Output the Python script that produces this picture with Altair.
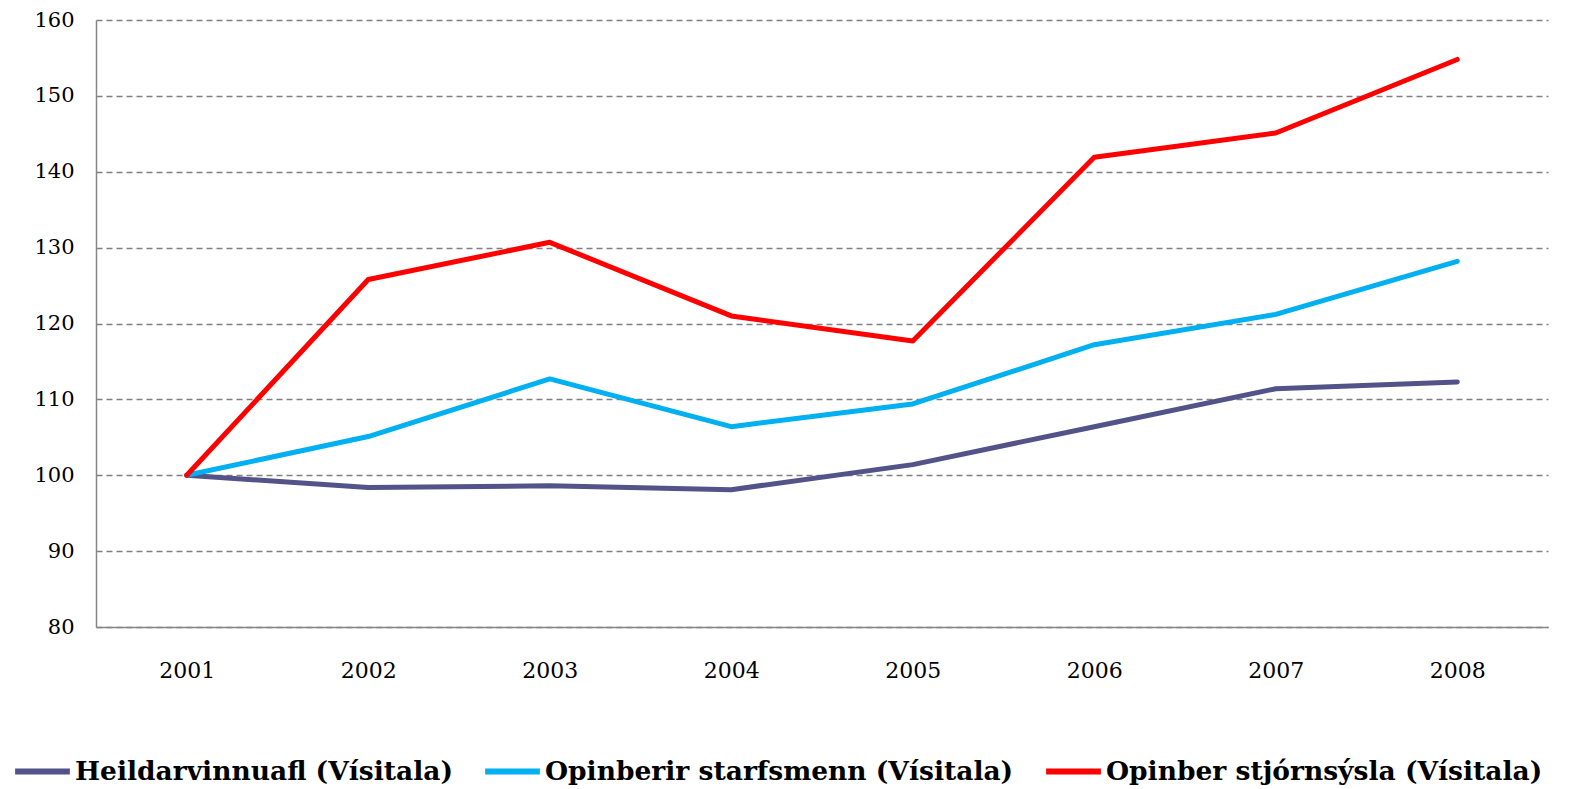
import altair as alt
import pandas as pd

years = ["2001", "2002", "2003", "2004", "2005", "2006", "2007", "2008"]
series_names = [
    "Heildarvinnuafl (Vísitala)",
    "Opinberir starfsmenn (Vísitala)",
    "Opinber stjórnsýsla (Vísitala)",
]
heildarvinnuafl = [100.0, 98.4, 98.6, 98.1, 101.4, 106.4, 111.4, 112.3]
opinberir_starfsmenn = [100.0, 105.1, 112.7, 106.4, 109.4, 117.2, 121.2, 128.2]
opinber_stjornsysla = [100.0, 125.8, 130.7, 121.0, 117.7, 141.9, 145.1, 154.8]
colors = ["#535389", "#00B0F0", "#FF0000"]

rows = []
for name, vals in zip(series_names, [heildarvinnuafl, opinberir_starfsmenn, opinber_stjornsysla]):
    for y, v in zip(years, vals):
        rows.append({"Ár": y, "Röð": name, "Gildi": v})
df = pd.DataFrame(rows)

FONT = "DejaVu Serif"

chart = alt.Chart(df).mark_line(strokeWidth=5, strokeCap="round", strokeJoin="round").encode(
    x=alt.X("Ár:O", sort=years, title=None,
            axis=alt.Axis(labelAngle=0, labelPadding=33, ticks=False,
                          domainColor="#868686", domainWidth=1.5,
                          labelFont=FONT, labelFontSize=22, labelColor="#000000")),
    y=alt.Y("Gildi:Q", title=None,
            scale=alt.Scale(domain=[80, 160], nice=False, zero=False),
            axis=alt.Axis(values=[80, 90, 100, 110, 120, 130, 140, 150, 160],
                          ticks=False, labelPadding=22,
                          domainColor="#868686", domainWidth=1.5,
                          grid=True, gridColor="#808080", gridDash=[6, 4], gridWidth=1.3,
                          labelFont=FONT, labelFontSize=21, labelColor="#000000")),
    color=alt.Color("Röð:N", sort=series_names, title=None,
                    scale=alt.Scale(domain=series_names, range=colors),
                    legend=alt.Legend(orient="none", legendX=-84, legendY=721,
                                      direction="horizontal",
                                      symbolType="stroke", symbolSize=3000,
                                      symbolStrokeWidth=6, labelOffset=2,
                                      columnPadding=20,
                                      labelFont="DejaVu Serif", labelFontWeight="bold",
                                      labelFontSize=26.5, labelColor="#000000",
                                      labelLimit=700)),
).properties(
    width=1452,
    height=607,
    padding={"left": 88, "top": 12, "right": 18, "bottom": 160},
    autosize=alt.AutoSizeParams(type="none"),
).configure_view(
    stroke=None
)

chart.save("out.html", embed_options={"renderer": "svg", "actions": False})
